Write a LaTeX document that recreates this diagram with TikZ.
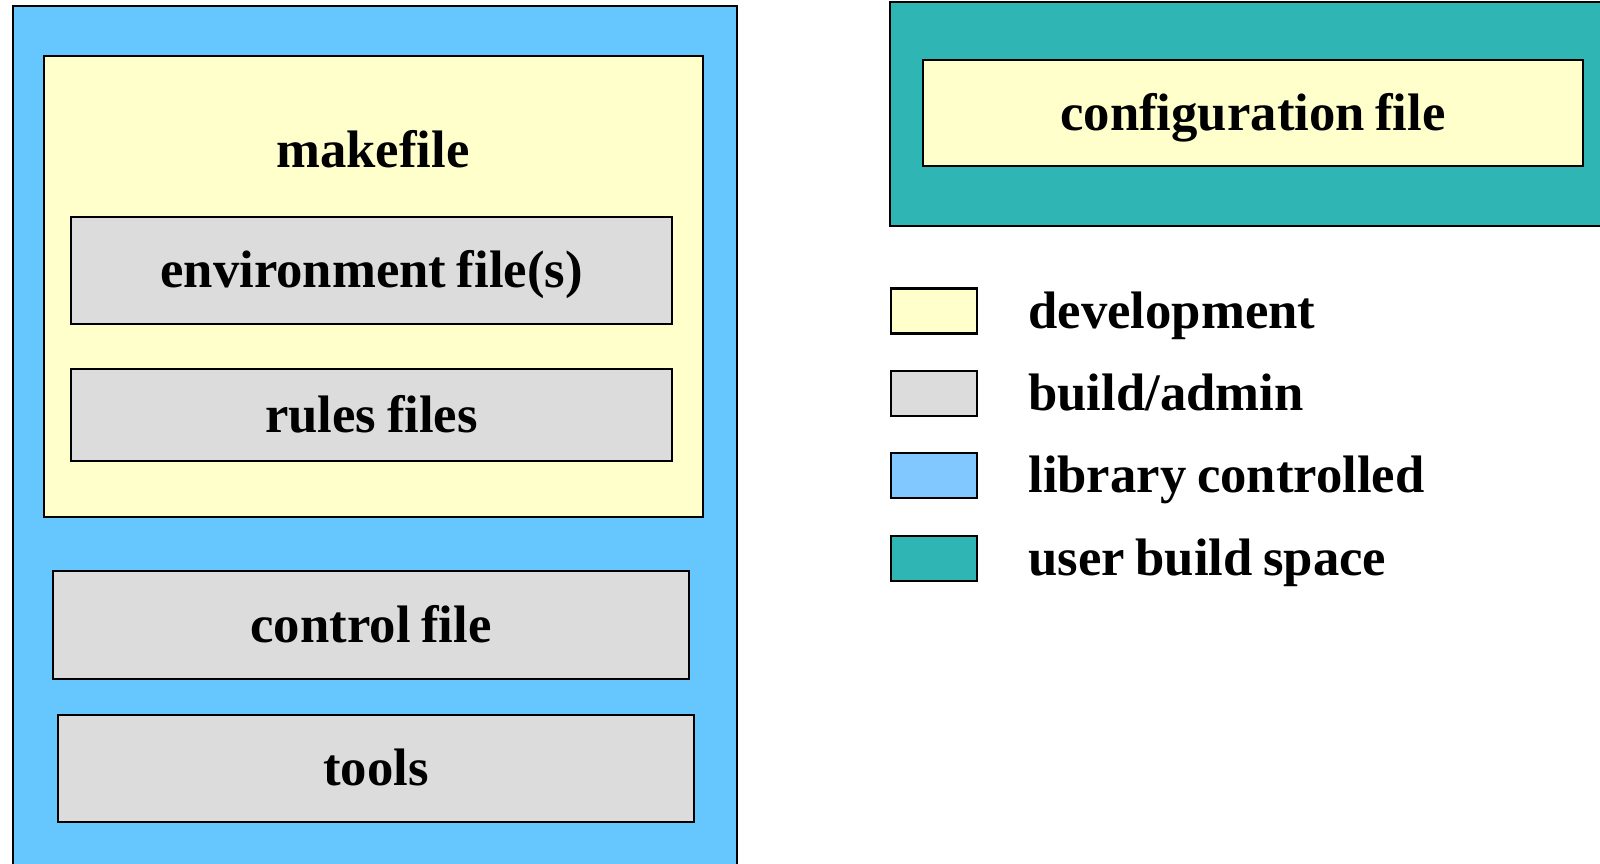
\documentclass[tikz,border=0pt]{standalone}
\usepackage{fontspec}
\setmainfont[WordSpace=0.8]{Liberation Serif}
\usetikzlibrary{positioning}

\definecolor{libblue}{RGB}{102,199,255}
\definecolor{legblue}{RGB}{128,200,255}
\definecolor{devyellow}{RGB}{255,255,204}
\definecolor{admingray}{RGB}{220,220,220}
\definecolor{userteal}{RGB}{48,181,181}

\begin{document}
\begin{tikzpicture}[
  x=0.02cm, y=-0.02cm,
  font=\bfseries\fontsize{30}{36}\selectfont,
  area/.style={draw=black, line width=1.3pt, inner sep=0pt},
  libarea/.style={area, fill=libblue},
  userarea/.style={area, fill=userteal},
  devbox/.style={area, fill=devyellow, text height=0.7cm, text depth=0pt},
  adminbox/.style={area, fill=admingray, text height=0.7cm, text depth=0pt},
  swatch/.style={area, minimum width=1.72cm, minimum height=0.9cm},
  legtext/.style={anchor=base west, inner sep=0pt}
]
\useasboundingbox (0,0) rectangle (1600,864);

% Library controlled area
\node[libarea, minimum width=14.48cm, minimum height=17.36cm] (library) at (375,440) {};
\node[devbox, minimum width=13.18cm, minimum height=9.22cm] (makefile) at (373.5,286.5) {};
\node[anchor=base, inner sep=0pt] (mklabel) at (373,168) {makefile};
\node[adminbox, minimum width=12.02cm, minimum height=2.14cm] (envfiles) at (371.5,270.5)
  {environment file(s)};
\node[adminbox, minimum width=12.02cm, minimum height=1.84cm] (rules) at (371.5,415)
  {rules files};
\node[adminbox, minimum width=12.72cm, minimum height=2.16cm] (control) at (371,625)
  {control file};
\node[adminbox, minimum width=12.72cm, minimum height=2.14cm] (tools) at (376,768.5)
  {tools};

% User build space
\node[userarea, minimum width=14.4cm, minimum height=4.48cm] (userspace) at (1250,114) {};
\node[devbox, minimum width=13.2cm, minimum height=2.12cm] (config) at (1253,113)
  {configuration file};

% Legend
\node[swatch, fill=devyellow] (legdev) at (934,311) {};
\node[swatch, fill=admingray] (legadmin) at (934,393.5) {};
\node[swatch, fill=legblue] (leglib) at (934,475.5) {};
\node[swatch, fill=userteal] (leguser) at (934,558.5) {};
\node[legtext] (tdev) at (1028,328.5) {development};
\node[legtext] (tadmin) at (1028,411) {build/admin};
\node[legtext] (tlib) at (1028,493) {library controlled};
\node[legtext] (tuser) at (1028,576) {user build space};
\end{tikzpicture}
\end{document}
